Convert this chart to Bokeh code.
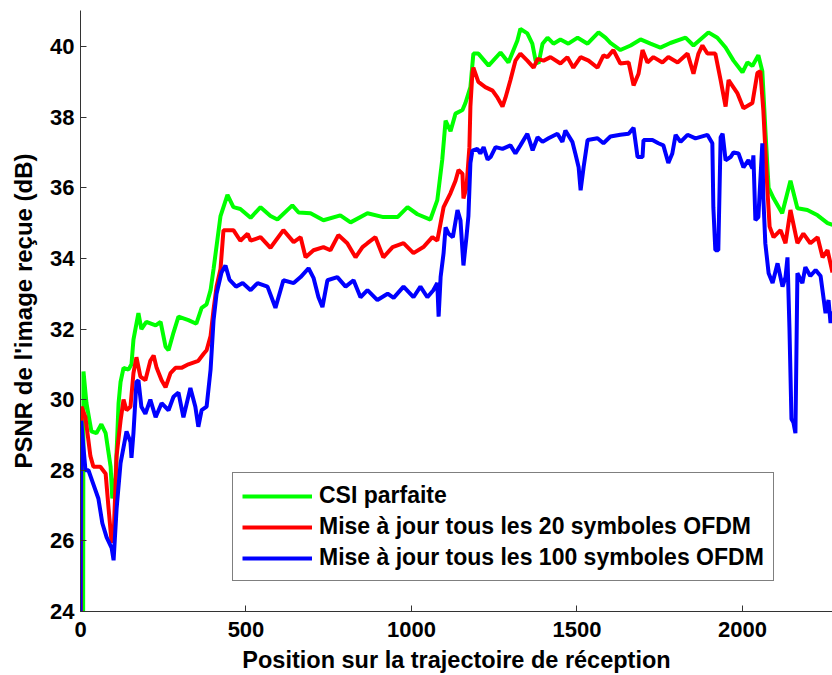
from bokeh.plotting import figure
from bokeh.models import Range1d, Legend, LegendItem, FixedTicker
from bokeh.embed import file_html
from bokeh.resources import INLINE

# ---- data ----
green_x = [8, 9, 18, 33, 48, 63, 76, 91, 96, 106, 115, 121, 130, 145, 154, 160, 175, 184, 199, 227,
           242, 257, 266, 281, 296, 326, 350, 366, 381, 393, 402, 423, 444, 462, 483, 514, 544, 574,
           595, 640, 659, 695, 734, 785, 816, 867, 915, 958, 988, 1018, 1057, 1078, 1093, 1103, 1118,
           1133, 1154, 1163, 1178, 1187, 1202, 1233, 1269, 1293, 1320, 1329, 1350, 1365, 1375, 1384,
           1396, 1411, 1429, 1450, 1474, 1502, 1532, 1565, 1586, 1601, 1631, 1662, 1692, 1722, 1752,
           1782, 1828, 1852, 1897, 1924, 1949, 1973, 2000, 2015, 2030, 2048, 2060, 2070, 2079, 2094,
           2120, 2145, 2166, 2196, 2227, 2257, 2272]
green_y = [24.0, 30.8, 29.9, 29.1, 29.05, 29.3, 29.05, 28.1, 27.2, 27.8, 29.9, 30.5, 30.9, 30.85, 31.0,
           31.7, 32.45, 32.0, 32.2, 32.1, 32.2, 31.5, 31.4, 31.9, 32.35, 32.25, 32.15, 32.6, 32.7, 33.1,
           33.7, 35.2, 35.8, 35.45, 35.4, 35.15, 35.45, 35.2, 35.1, 35.5, 35.3, 35.28, 35.08, 35.22,
           35.02, 35.28, 35.17, 35.17, 35.45, 35.25, 35.1, 35.65, 36.8, 37.9, 37.6, 38.1, 38.2, 38.4,
           38.85, 39.8, 39.8, 39.46, 39.83, 39.55, 40.17, 40.5, 40.37, 40.08, 39.6, 39.52, 40.08, 40.25,
           40.08, 40.2, 40.08, 40.25, 40.08, 40.4, 40.25, 40.1, 39.9, 40.03, 40.2, 40.08, 39.97, 40.1,
           40.25, 40.03, 40.4, 40.25, 39.97, 39.6, 39.27, 39.55, 39.45, 39.75, 39.3, 37.5, 36.0, 35.7,
           35.28, 36.2, 35.42, 35.37, 35.22, 35.0, 34.95]

red_x = [1, 3, 15, 30, 39, 60, 76, 85, 94, 100, 109, 121, 130, 139, 151, 160, 169, 181, 196, 211, 221,
         230, 245, 257, 272, 287, 305, 326, 356, 372, 381, 393, 402, 411, 423, 432, 462, 483, 505, 514,
         544, 574, 613, 644, 665, 680, 704, 734, 755, 779, 806, 831, 852, 867, 891, 915, 943, 976, 1006,
         1036, 1063, 1078, 1088, 1097, 1118, 1133, 1142, 1154, 1157, 1166, 1175, 1178, 1184, 1187, 1202,
         1223, 1245, 1260, 1275, 1284, 1299, 1314, 1329, 1350, 1369, 1381, 1399, 1420, 1450, 1471, 1489,
         1511, 1535, 1562, 1580, 1592, 1610, 1631, 1656, 1671, 1686, 1698, 1713, 1731, 1758, 1776, 1804,
         1834, 1852, 1867, 1879, 1894, 1918, 1934, 1949, 1958, 1985, 2003, 2030, 2045, 2054, 2063, 2075,
         2082, 2094, 2115, 2130, 2145, 2166, 2184, 2205, 2227, 2242, 2257, 2272]
red_y = [24.0, 29.8, 29.5, 28.4, 28.1, 28.1, 27.9, 26.9, 25.95, 26.1, 28.4, 29.4, 30.0, 29.7, 29.8,
         30.75, 31.2, 30.65, 30.55, 31.1, 31.25, 30.9, 30.55, 30.35, 30.75, 30.9, 30.9, 31.0, 31.1, 31.3,
         31.4, 31.8, 32.55, 33.2, 33.7, 34.8, 34.8, 34.5, 34.7, 34.5, 34.6, 34.3, 34.8, 34.46, 34.6,
         34.03, 34.23, 34.32, 34.23, 34.66, 34.43, 34.03, 34.32, 34.43, 34.6, 34.03, 34.32, 34.43,
         34.15, 34.32, 34.6, 34.5, 35.0, 35.45, 35.85, 36.2, 36.5, 36.4, 35.7, 36.0, 37.15, 38.3, 39.25,
         39.4, 39.0, 38.85, 38.75, 38.55, 38.3, 38.55, 39.05, 39.6, 39.8, 39.6, 39.4, 39.65, 39.6, 39.7,
         39.52, 39.7, 39.4, 39.7, 39.6, 39.4, 39.75, 39.7, 39.9, 39.52, 39.55, 38.9, 39.23, 39.9, 39.55,
         39.7, 39.55, 39.7, 39.55, 39.8, 39.23, 39.8, 40.03, 39.8, 39.8, 39.05, 38.3, 39.05, 38.67,
         38.25, 38.4, 39.25, 39.3, 38.2, 36.0, 34.9, 34.6, 34.8, 34.43, 35.37, 34.43, 34.7, 34.43, 34.6,
         34.03, 34.23, 33.6]

blue_x = [0, 2, 15, 24, 39, 54, 66, 79, 94, 100, 109, 121, 130, 139, 151, 154, 160, 169, 175, 184, 196,
          211, 227, 245, 266, 281, 296, 311, 332, 347, 356, 366, 381, 393, 402, 411, 426, 438, 450, 470,
          490, 514, 535, 565, 589, 613, 644, 665, 689, 704, 719, 731, 746, 776, 801, 825, 846, 867, 897,
          928, 946, 976, 1006, 1027, 1048, 1066, 1078, 1082, 1088, 1097, 1103, 1112, 1125, 1139, 1148,
          1157, 1166, 1172, 1178, 1184, 1199, 1208, 1218, 1230, 1239, 1254, 1275, 1299, 1314, 1329, 1350,
          1366, 1381, 1396, 1414, 1441, 1456, 1465, 1486, 1495, 1505, 1511, 1520, 1532, 1562, 1580, 1601,
          1631, 1656, 1671, 1683, 1698, 1701, 1728, 1746, 1761, 1776, 1788, 1798, 1813, 1834, 1858, 1894,
          1909, 1912, 1918, 1927, 1934, 1940, 1949, 1964, 1973, 1988, 2003, 2018, 2030, 2033, 2039, 2048,
          2060, 2063, 2069, 2079, 2091, 2106, 2121, 2130, 2136, 2142, 2148, 2154, 2160, 2166, 2181, 2190,
          2205, 2221, 2236, 2251, 2260, 2266, 2272]
blue_y = [24.0, 29.4, 28.0, 28.0, 27.6, 27.2, 26.5, 26.1, 25.8, 25.45, 26.9, 28.2, 28.65, 29.1, 28.8,
          28.35, 29.05, 30.5, 30.55, 29.8, 29.6, 30.0, 29.5, 29.9, 29.7, 30.08, 30.2, 29.5, 30.33, 29.8,
          29.23, 29.7, 29.8, 30.85, 32.25, 33.0, 33.6, 33.8, 33.4, 33.2, 33.3, 33.1, 33.3, 33.2, 32.6,
          33.38, 33.3, 33.47, 33.72, 33.45, 32.9, 32.62, 33.38, 33.47, 33.2, 33.38, 32.9, 33.1, 32.82,
          33.0, 32.88, 33.2, 32.9, 33.2, 32.9, 33.1, 33.3, 32.35, 33.47, 34.15, 34.88, 34.7, 34.6, 35.37,
          35.08, 33.8, 34.6, 35.2, 36.7, 37.05, 37.1, 36.97, 37.15, 36.8, 36.87, 37.15, 37.1, 37.2,
          36.97, 37.2, 37.53, 37.06, 37.43, 37.3, 37.4, 37.53, 37.3, 37.62, 37.3, 36.97, 36.58, 35.93,
          36.58, 37.35, 37.4, 37.26, 37.45, 37.5, 37.53, 37.7, 36.87, 36.87, 37.35, 37.35, 37.26, 37.2,
          36.7, 36.97, 37.5, 37.3, 37.5, 37.4, 37.5, 37.26, 35.45, 34.23, 34.23, 37.43, 37.53, 36.78,
          36.87, 37.0, 36.97, 36.58, 36.78, 36.55, 36.92, 35.08, 35.17, 37.26, 35.73, 34.43, 33.58,
          33.3, 33.86, 33.2, 33.47, 34.03, 32.0, 29.45, 29.35, 29.05, 33.58, 33.3, 33.75, 33.5, 33.67,
          33.5, 32.45, 32.82, 32.17, 32.5]

series_labels = ["CSI parfaite",
                 "Mise à jour tous les 20 symboles OFDM",
                 "Mise à jour tous les 100 symboles OFDM"]
x_ticks = [0, 500, 1000, 1500, 2000]
y_ticks = [24, 26, 28, 30, 32, 34, 36, 38, 40]
x_label = "Position sur la trajectoire de réception"
y_label = "PSNR de l'image reçue (dB)"

FONT = "Liberation Sans"

p = figure(width=832, height=675, output_backend="svg", toolbar_location=None,
           x_range=Range1d(0, 2272), y_range=Range1d(24, 41.02),
           min_border_left=80, min_border_right=0, min_border_top=10, min_border_bottom=63)
p.outline_line_color = None
p.grid.visible = False
p.background_fill_color = "white"
p.border_fill_color = "white"

r_g = p.line(green_x, green_y, line_color="#00FF00", line_width=4)
r_r = p.line(red_x, red_y, line_color="#FF0000", line_width=4)
r_b = p.line(blue_x, blue_y, line_color="#0000FF", line_width=4)

for ax in (p.xaxis[0], p.yaxis[0]):
    ax.axis_line_color = "#333333"
    ax.axis_line_width = 1
    ax.major_tick_line_color = "#333333"
    ax.major_tick_in = 6
    ax.major_tick_out = 0
    ax.minor_tick_line_color = None
    ax.major_label_text_font = FONT
    ax.major_label_text_font_style = "bold"
    ax.major_label_text_font_size = "22px"
    ax.major_label_text_color = "black"
    ax.axis_label_text_font = FONT
    ax.axis_label_text_font_style = "bold"
    ax.axis_label_text_color = "black"

p.xaxis.axis_label_text_font_size = "23.5px"
p.yaxis.axis_label_text_font_size = "24px"
p.xaxis.ticker = FixedTicker(ticks=x_ticks)
p.yaxis.ticker = FixedTicker(ticks=y_ticks)
p.xaxis.axis_label = x_label
p.yaxis.axis_label = y_label
p.xaxis.major_label_standoff = 10
p.xaxis.axis_label_standoff = 7
p.yaxis.major_label_standoff = 6
p.yaxis.axis_label_standoff = 10

legend = Legend(items=[LegendItem(label=series_labels[0], renderers=[r_g]),
                       LegendItem(label=series_labels[1], renderers=[r_r]),
                       LegendItem(label=series_labels[2], renderers=[r_b])],
                location=(152, 30))
legend.label_text_font = FONT
legend.label_text_font_style = "bold"
legend.label_text_font_size = "23px"
legend.label_text_color = "black"
legend.glyph_width = 70
legend.glyph_height = 26
legend.label_height = 26
legend.label_standoff = 7
legend.spacing = 4
legend.padding = 9
legend.margin = 0
legend.border_line_color = "black"
legend.border_line_width = 1
legend.background_fill_color = "white"
legend.background_fill_alpha = 1
p.add_layout(legend)

open("out.html", "w").write(file_html(p, INLINE))
